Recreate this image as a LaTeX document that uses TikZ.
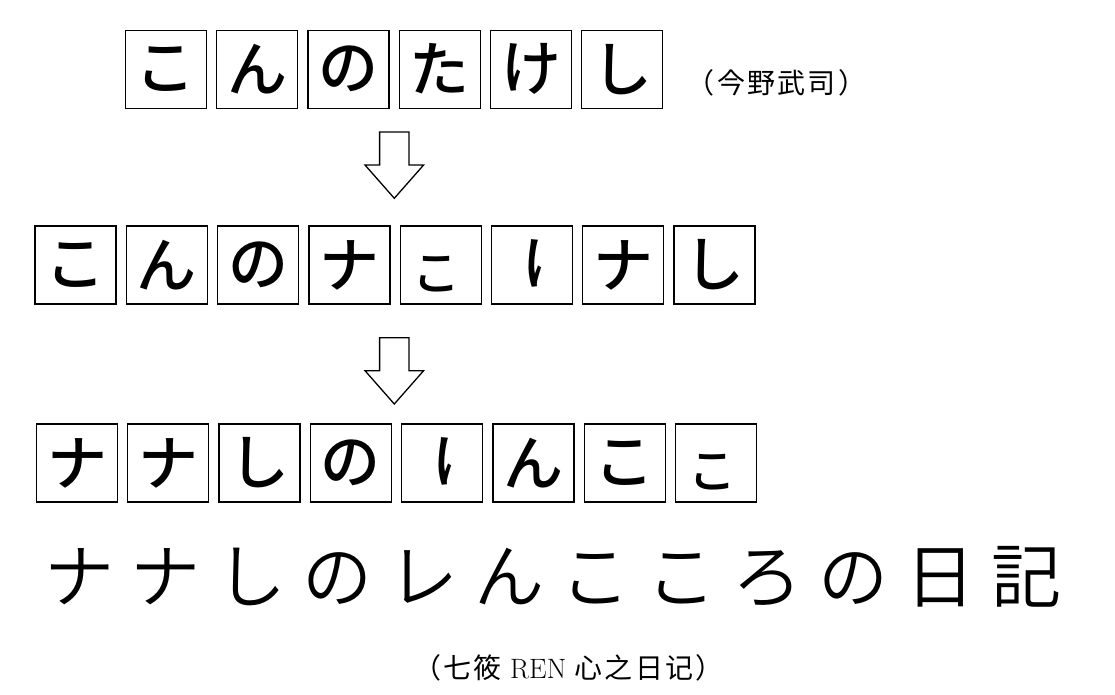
\documentclass[tikz,border=0pt]{standalone}
\usepackage{fontspec}
\newfontfamily\jpbox{Noto Sans CJK JP Medium}
\newfontfamily\jpthin[LetterSpace=23]{Noto Sans CJK JP DemiLight}
\newfontfamily\jp[LetterSpace=8]{Noto Sans CJK JP}
\newfontfamily\zhfont[LetterSpace=8]{Noto Sans CJK SC}
\usetikzlibrary{positioning}

\begin{document}
\begin{tikzpicture}
[x=1pt,y=-1pt,
every node/.style={inner sep=0pt},
kana/.style={draw,line width=1.3pt,minimum width=81pt,minimum height=78pt,font=\jpbox\fontsize{60}{60}\selectfont},
smallkana/.style={font=\jpbox\fontsize{48}{48}\selectfont},
hollow/.pic={\draw[line width=1.3pt] (-14.7,0) -- (14.7,0) -- (14.7,33) -- (29.3,33) -- (0,66.3) -- (-29.3,33) -- (-14.7,33) -- cycle;}]
\useasboundingbox (0,0) rectangle (1115,695);

% first row
\node[kana] (a1) at (165.8,69.2) {こ};
\node[kana,right=9pt of a1] (a2) {ん};
\node[kana,right=9pt of a2] (a3) {の};
\node[kana,right=9pt of a3] (a4) {た};
\node[kana,right=9pt of a4] (a5) {け};
\node[kana,right=9pt of a5] (a6) {し};
\node[font=\jp\fontsize{28}{28}\selectfont] (author) at (776.5,83) {（今野武司）};

\coordinate (s1) at (394.3,132);
\pic at (s1) {hollow};

% second row
\node[kana] (b1) at (75.5,265) {こ};
\node[kana,right=9pt of b1] (b2) {ん};
\node[kana,right=9pt of b2] (b3) {の};
\node[kana,right=9pt of b3] (b4) {ナ};
\node[kana,right=9pt of b4] (b5) {};
\node[smallkana] (b5t) at ([xshift=-4pt,yshift=-9pt]b5.center) {こ};
\node[kana,right=9pt of b5] (b6) {};
\begin{scope}
\clip ([xshift=-20pt]b6.north) rectangle ([xshift=10pt]b6.south);
\node[font=\jpbox\fontsize{60}{60}\selectfont] (b6t) at ([xshift=20pt]b6.center) {け};
\end{scope}
\node[kana,right=9pt of b6] (b7) {ナ};
\node[kana,right=9pt of b7] (b8) {し};

\coordinate (s2) at (394.3,337.7);
\pic at (s2) {hollow};

% third row
\node[kana] (c1) at (77,463) {ナ};
\node[kana,right=9pt of c1] (c2) {ナ};
\node[kana,right=9pt of c2] (c3) {し};
\node[kana,right=9pt of c3] (c4) {の};
\node[kana,right=9pt of c4] (c5) {};
\begin{scope}
\clip ([xshift=-20pt]c5.north) rectangle ([xshift=10pt]c5.south);
\node[font=\jpbox\fontsize{60}{60}\selectfont] (c5t) at ([xshift=20pt]c5.center) {け};
\end{scope}
\node[kana,right=9pt of c5] (c6) {ん};
\node[kana,right=9pt of c6] (c7) {こ};
\node[kana,right=9pt of c7] (c8) {};
\node[smallkana] (c8t) at ([xshift=-4pt,yshift=-9pt]c8.center) {こ};

\node[font=\jpthin\fontsize{70}{70}\selectfont] (title) at (552.7,577) {ナナしのレんこころの日記};
\node[font=\zhfont\fontsize{28}{28}\selectfont] (sub) at (568.4,668) {（七筱 {\rmfamily REN} 心之日记）};
\end{tikzpicture}
\end{document}
